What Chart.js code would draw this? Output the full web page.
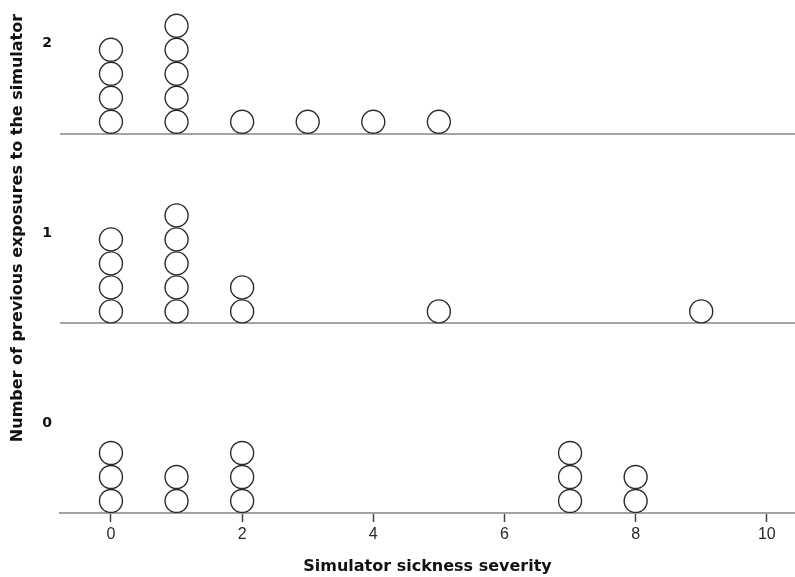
<!DOCTYPE html>
<html>
<head>
<meta charset="utf-8">
<script src="https://cdn.jsdelivr.net/npm/chart.js@4"></script>
<style>
  html, body { margin: 0; padding: 0; background: #ffffff; }
  #wrap { width: 795px; height: 577px; }
</style>
</head>
<body>
<div id="wrap"><canvas id="c" width="795" height="577"></canvas></div>
<script>
// Observed severity scores, one entry per participant, grouped by previous exposures
const groupLabels = ['0', '1', '2'];
const severityExposure0 = [0, 0, 0, 1, 1, 2, 2, 2, 7, 7, 7, 8, 8];
const severityExposure1 = [0, 0, 0, 0, 1, 1, 1, 1, 1, 2, 2, 5, 9];
const severityExposure2 = [0, 0, 0, 0, 1, 1, 1, 1, 1, 2, 3, 4, 5];
const xTickValues = [0, 2, 4, 6, 8, 10];

const xTitle = 'Simulator sickness severity';
const yTitle = 'Number of previous exposures to the simulator';

// Vertical layout in "dot units": each stacked dot takes one unit,
// each exposure group occupies a band of BAND units.
const BAND = 7.9;
const LABEL_OFFSET = 3.75;
const Y_MAX = 21.375;

const groups = [severityExposure0, severityExposure1, severityExposure2];

// Stack repeated scores into columns of dots above each group's baseline
function stackDots(values, g) {
  const seen = {};
  return values.map(v => {
    const k = seen[v] || 0;
    seen[v] = k + 1;
    return { x: v, y: g * BAND + k + 0.5 };
  });
}

const points = [];
groups.forEach((vals, g) => points.push(...stackDots(vals, g)));

// Grey baselines for the upper groups, plus the rotated y title
const bandPlugin = {
  id: 'bands',
  beforeDatasetsDraw(chart) {
    const { ctx, chartArea, scales } = chart;
    ctx.save();
    ctx.strokeStyle = '#a3a3a3';
    ctx.lineWidth = 2;
    for (let g = 1; g < groups.length; g++) {
      const py = Math.round(scales.y.getPixelForValue(g * BAND));
      ctx.beginPath();
      ctx.moveTo(chartArea.left, py);
      ctx.lineTo(chartArea.right, py);
      ctx.stroke();
    }
    ctx.restore();
  },
  afterDraw(chart) {
    const { ctx } = chart;
    ctx.save();
    ctx.translate(18, 228);
    ctx.rotate(-Math.PI / 2);
    ctx.font = 'bold 16px "DejaVu Sans", Verdana, sans-serif';
    ctx.fillStyle = '#111111';
    ctx.textAlign = 'center';
    ctx.textBaseline = 'middle';
    ctx.fillText(yTitle, 0, 0);
    ctx.restore();
  }
};

new Chart(document.getElementById('c'), {
  type: 'scatter',
  data: {
    datasets: [{
      data: points,
      pointRadius: 11.5,
      pointHoverRadius: 11.5,
      borderWidth: 1.4,
      borderColor: '#2b2b2b',
      backgroundColor: '#ffffff'
    }]
  },
  options: {
    responsive: false,
    animation: false,
    layout: { autoPadding: false, padding: 0 },
    plugins: {
      legend: { display: false },
      tooltip: { enabled: false }
    },
    scales: {
      x: {
        type: 'linear',
        bounds: 'data',
        min: -0.777,
        max: 10.43,
        afterBuildTicks(scale) {
          scale.ticks = xTickValues.map(v => ({ value: v }));
        },
        afterFit(scale) {
          scale.height = 64;
          scale.paddingLeft = 0;
          scale.paddingRight = 0;
        },
        grid: {
          display: true,
          drawOnChartArea: false,
          drawTicks: true,
          tickLength: 9,
          tickColor: '#444444',
          tickWidth: 1.5
        },
        border: { display: true, color: '#a3a3a3', width: 2 },
        ticks: {
          padding: 3,
          color: '#2a2a2a',
          font: { family: '"Liberation Sans", Arial, sans-serif', size: 16 },
          callback: v => String(v)
        },
        title: {
          display: true,
          text: xTitle,
          color: '#111111',
          font: { family: '"DejaVu Sans", Verdana, sans-serif', size: 16, weight: 'bold' },
          padding: { top: 0, bottom: 1 }
        }
      },
      y: {
        type: 'linear',
        bounds: 'data',
        min: 0,
        max: Y_MAX,
        afterBuildTicks(scale) {
          scale.ticks = groupLabels.map((_, g) => ({ value: g * BAND + LABEL_OFFSET }));
        },
        afterFit(scale) {
          scale.width = 60;
          scale.paddingTop = 0;
          scale.paddingBottom = 0;
        },
        grid: { display: false, drawTicks: false },
        border: { display: false },
        ticks: {
          padding: 8,
          color: '#111111',
          font: { family: '"DejaVu Sans", Verdana, sans-serif', size: 14, weight: 'bold' },
          callback: (v, i) => groupLabels[i]
        }
      }
    }
  },
  plugins: [bandPlugin]
});
</script>
</body>
</html>
